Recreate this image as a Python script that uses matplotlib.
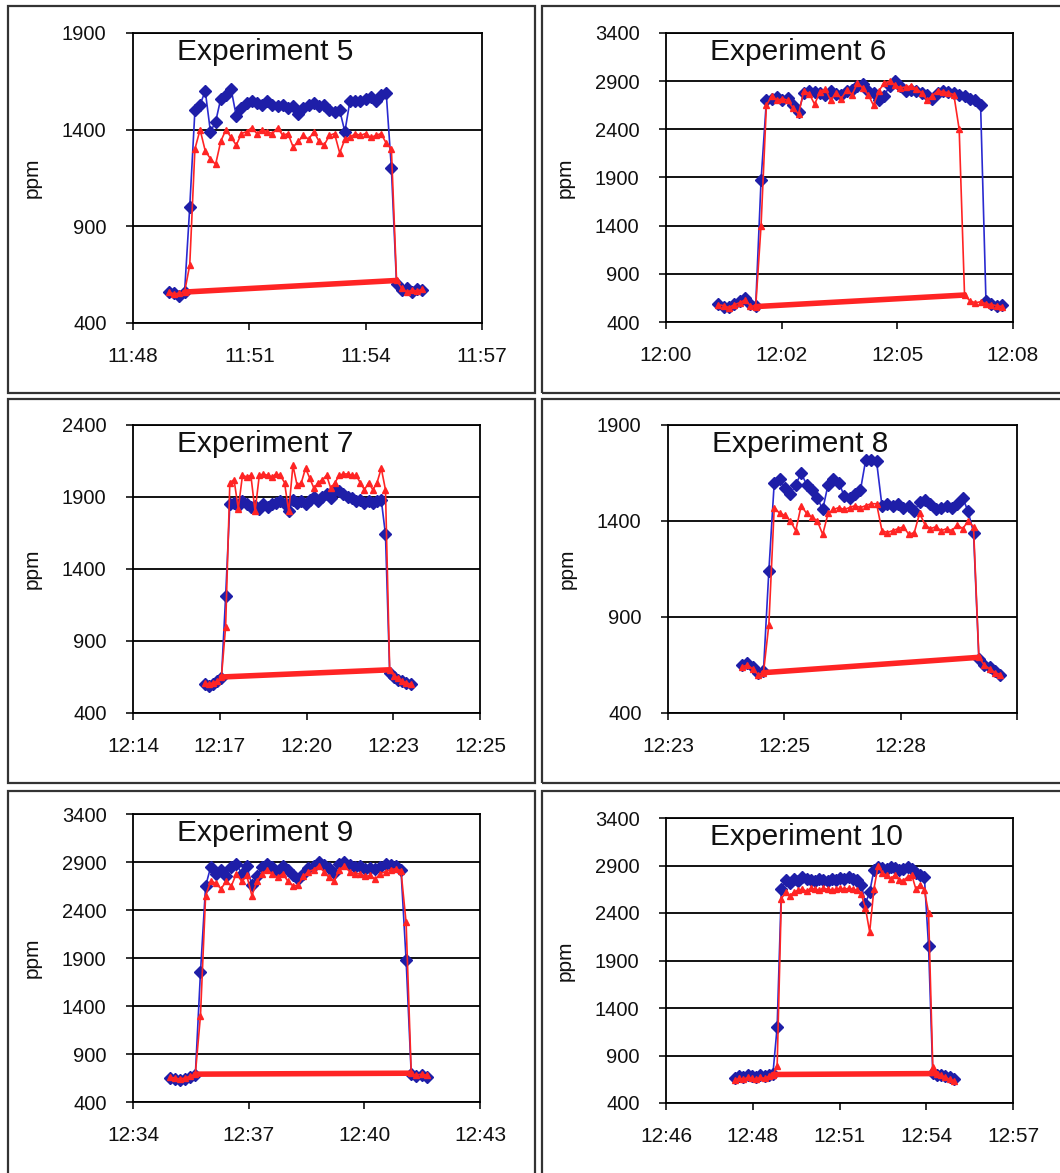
import numpy as np
import matplotlib
matplotlib.use('Agg')
import matplotlib.pyplot as plt
from matplotlib.patches import Rectangle

plt.rcParams['font.family'] = ['Liberation Sans', 'DejaVu Sans']

W, H = 1060, 1173
sample_min = 8 / 60.0  # one reading every 8 s

titles = ['Experiment 5', 'Experiment 6', 'Experiment 7',
          'Experiment 8', 'Experiment 9', 'Experiment 10']

# minutes after the first axis label at which the readings start
start_min = [0.93, 1.30, 2.27, 1.83, 0.95, 2.19]

# axis length in minutes and its labels
x_span = [9.0, 8.64, 11.0, 8.64, 9.0, 11.0]
x_labels = [['11:48', '11:51', '11:54', '11:57'],
            ['12:00', '12:02', '12:05', '12:08'],
            ['12:14', '12:17', '12:20', '12:23', '12:25'],
            ['12:23', '12:25', '12:28', ''],
            ['12:34', '12:37', '12:40', '12:43'],
            ['12:46', '12:48', '12:51', '12:54', '12:57']]
y_max = [1900, 3400, 2400, 1900, 3400, 3400]

blue5 = [560, 555, 540, 560, 1000, 1500, 1530, 1600, 1390, 1440,
         1560, 1580, 1610, 1470, 1510, 1540, 1550, 1540, 1530, 1550,
         1530, 1520, 1530, 1510, 1520, 1480, 1510, 1530, 1540, 1520,
         1530, 1500, 1490, 1500, 1390, 1550, 1550, 1550, 1560, 1570,
         1550, 1580, 1590, 1200, 600, 570, 580, 560, 575, 570]
red5 = [560, 550, 555, 560, 700, 1300, 1400, 1290, 1250, 1220,
        1340, 1400, 1360, 1320, 1380, 1390, 1410, 1380, 1400, 1390,
        1380, 1410, 1370, 1380, 1310, 1340, 1370, 1350, 1390, 1340,
        1320, 1370, 1380, 1280, 1350, 1360, 1380, 1370, 1380, 1360,
        1370, 1380, 1330, 1300, 620, 580, 560, 570, 565, 575]

blue6 = [590, 560, 560, 590, 620, 650, 590, 570, 1870, 2700,
         2720, 2740, 2700, 2730, 2650, 2580, 2780, 2800, 2790, 2780,
         2760, 2800, 2770, 2760, 2800, 2810, 2850, 2870, 2800, 2780,
         2700, 2750, 2850, 2900, 2850, 2800, 2810, 2800, 2780, 2760,
         2720, 2780, 2800, 2790, 2780, 2760, 2750, 2720, 2700, 2650,
         620, 590, 570, 580]
red6 = [580, 570, 550, 580, 600, 630, 570, 560, 1400, 2650,
        2750, 2700, 2720, 2700, 2620, 2560, 2800, 2770, 2660, 2790,
        2820, 2700, 2780, 2720, 2810, 2760, 2880, 2830, 2760, 2650,
        2800, 2880, 2900, 2860, 2830, 2840, 2850, 2820, 2780, 2700,
        2750, 2800, 2790, 2780, 2760, 2400, 680, 620, 600, 610,
        590, 580, 570, 560]

blue7 = [600, 590, 600, 620, 640, 1210, 1850, 1860, 1840, 1870,
         1850, 1830, 1840, 1820, 1850, 1830, 1850, 1860, 1870, 1850,
         1800, 1880, 1860, 1870, 1850, 1880, 1900, 1870, 1900, 1920,
         1890, 1950, 1940, 1920, 1900, 1890, 1870, 1880, 1860, 1870,
         1860, 1870, 1880, 1640, 680, 650, 630, 620, 610, 600]
red7 = [610, 600, 610, 620, 650, 1000, 2000, 2020, 1820, 2050,
        2040, 2050, 1800, 2050, 2060, 2050, 2040, 2060, 2050, 2000,
        1800, 2120, 1980, 2000, 2100, 2030, 1960, 2000, 2020, 2050,
        1960, 2000, 2050, 2060, 2060, 2050, 2050, 2000, 1950, 2000,
        1950, 2000, 2100, 1950, 700, 660, 640, 620, 610, 600]

blue8 = [650, 660, 640, 610, 620, 1140, 1600, 1620, 1570, 1540,
         1590, 1650, 1590, 1560, 1520, 1460, 1590, 1620, 1600, 1530,
         1520, 1540, 1560, 1720, 1720, 1710, 1480, 1490, 1480, 1490,
         1470, 1480, 1450, 1500, 1510, 1490, 1460, 1470, 1480, 1470,
         1490, 1520, 1450, 1340, 680, 650, 640, 620, 600]
red8 = [640, 650, 630, 600, 610, 860, 1470, 1440, 1430, 1400,
        1350, 1480, 1440, 1420, 1400, 1330, 1440, 1460, 1470, 1460,
        1470, 1480, 1470, 1480, 1490, 1490, 1350, 1340, 1350, 1360,
        1370, 1330, 1340, 1440, 1380, 1360, 1370, 1350, 1360, 1350,
        1380, 1360, 1400, 1370, 690, 650, 630, 610, 600]

blue9 = [650, 640, 630, 640, 660, 680, 1750, 2650, 2850, 2780,
         2820, 2750, 2850, 2880, 2780, 2860, 2660, 2750, 2850, 2880,
         2850, 2800, 2860, 2820, 2760, 2720, 2780, 2840, 2860, 2900,
         2870, 2840, 2790, 2880, 2900, 2870, 2850, 2860, 2830, 2840,
         2830, 2850, 2880, 2870, 2860, 2820, 1880, 690, 670, 680,
         660]
red9 = [660, 650, 640, 650, 670, 690, 1300, 2550, 2700, 2680,
        2620, 2700, 2650, 2780, 2700, 2760, 2550, 2700, 2780, 2820,
        2770, 2740, 2780, 2700, 2650, 2660, 2750, 2800, 2820, 2860,
        2800, 2740, 2700, 2820, 2860, 2800, 2780, 2780, 2750, 2760,
        2720, 2780, 2800, 2820, 2830, 2810, 2270, 700, 680, 690,
        680]

blue10 = [660, 680, 670, 690, 680, 670, 690, 680, 700, 710,
          1200, 2650, 2750, 2720, 2760, 2740, 2780, 2760, 2750, 2740,
          2760, 2750, 2740, 2760, 2750, 2770, 2760, 2780, 2760, 2750,
          2700, 2500, 2620, 2850, 2880, 2870, 2860, 2880, 2870, 2850,
          2860, 2880, 2860, 2820, 2800, 2780, 2050, 720, 700, 690,
          680, 670, 650]
red10 = [640, 660, 650, 670, 660, 650, 670, 660, 680, 700,
         790, 2550, 2620, 2580, 2620, 2640, 2650, 2630, 2660, 2650,
         2640, 2660, 2650, 2640, 2650, 2660, 2650, 2660, 2650, 2640,
         2600, 2450, 2200, 2650, 2900, 2820, 2800, 2760, 2800, 2750,
         2740, 2780, 2800, 2650, 2700, 2640, 2400, 780, 710, 690,
         670, 650, 630]

BLUE = [blue5, blue6, blue7, blue8, blue9, blue10]
RED = [red5, red6, red7, red8, red9, red10]

# axes boxes in pixels: left, top, right, bottom
ax_px = [(133, 33, 482, 323), (666, 33, 1013, 322),
         (133, 425, 480, 713), (668, 425, 1017, 713),
         (133, 814, 480, 1102), (666, 818, 1013, 1103)]
# outer frames around each chart
box_px = [(8, 6, 535, 393), (542, 6, 1075, 393),
          (8, 399, 535, 783), (542, 399, 1075, 783),
          (8, 791, 535, 1190), (542, 791, 1075, 1190)]

c_blue = '#1e1ea8'
c_line = '#2a2ad0'
c_red = '#ff2424'

fig = plt.figure(figsize=(W / 100, H / 100), dpi=100)
fig.patch.set_facecolor('white')

for (l, t, r, b) in box_px:
    fig.add_artist(Rectangle((l / W, 1 - b / H), (r - l) / W, (b - t) / H,
                             transform=fig.transFigure, fill=False,
                             lw=1.6, ec='#333333'))

for k in range(6):
    l, t, r, b = ax_px[k]
    ax = fig.add_axes([l / W, 1 - b / H, (r - l) / W, (b - t) / H])
    blue = np.array(BLUE[k])
    red = np.array(RED[k])
    x = start_min[k] + sample_min * np.arange(len(blue))

    ax.plot(x, blue, color=c_line, lw=1.2, marker='D', ms=6.5,
            mec=c_blue, mfc=c_blue, zorder=3)
    ax.plot(x, red, color=c_red, lw=1.2, marker='^', ms=4.5,
            mec=c_red, mfc=c_red, zorder=4)
    # return stroke of the red series along the baseline
    hi = np.where(red > red[0] + 100)[0]
    i0, i1 = hi[0] - 1, hi[-1] + 1
    ax.plot([x[i0], x[i1]], [red[i0], red[i1]], color=c_red, lw=4,
            solid_capstyle='round', zorder=4)

    ax.set_xlim(0, x_span[k])
    ax.set_ylim(400, y_max[k])
    ax.set_xticks(np.linspace(0, x_span[k], len(x_labels[k])))
    ax.set_xticklabels(x_labels[k])
    ax.set_yticks(np.arange(400, y_max[k] + 1, 500))
    ax.tick_params(axis='x', direction='out', length=5, width=1.2,
                   labelsize=15, pad=12, colors='#111111')
    ax.tick_params(axis='y', direction='out', length=5, width=1.2,
                   labelsize=14.5, pad=14, colors='#111111')
    ax.grid(axis='y', color='black', lw=1.3)
    ax.set_axisbelow(True)
    for s in ax.spines.values():
        s.set_linewidth(1.3)
        s.set_color('black')

    ax.set_ylabel('ppm', fontsize=15, color='#111111')
    ax.yaxis.set_label_coords(-91 / (r - l), 0.5)

    ax.annotate(titles[k], xy=(0, 1), xycoords='axes fraction',
                xytext=(44, -5), textcoords='offset pixels',
                ha='left', va='top', fontsize=21.5, color='#111111')

fig.savefig('out.png', dpi=100, facecolor='white')
